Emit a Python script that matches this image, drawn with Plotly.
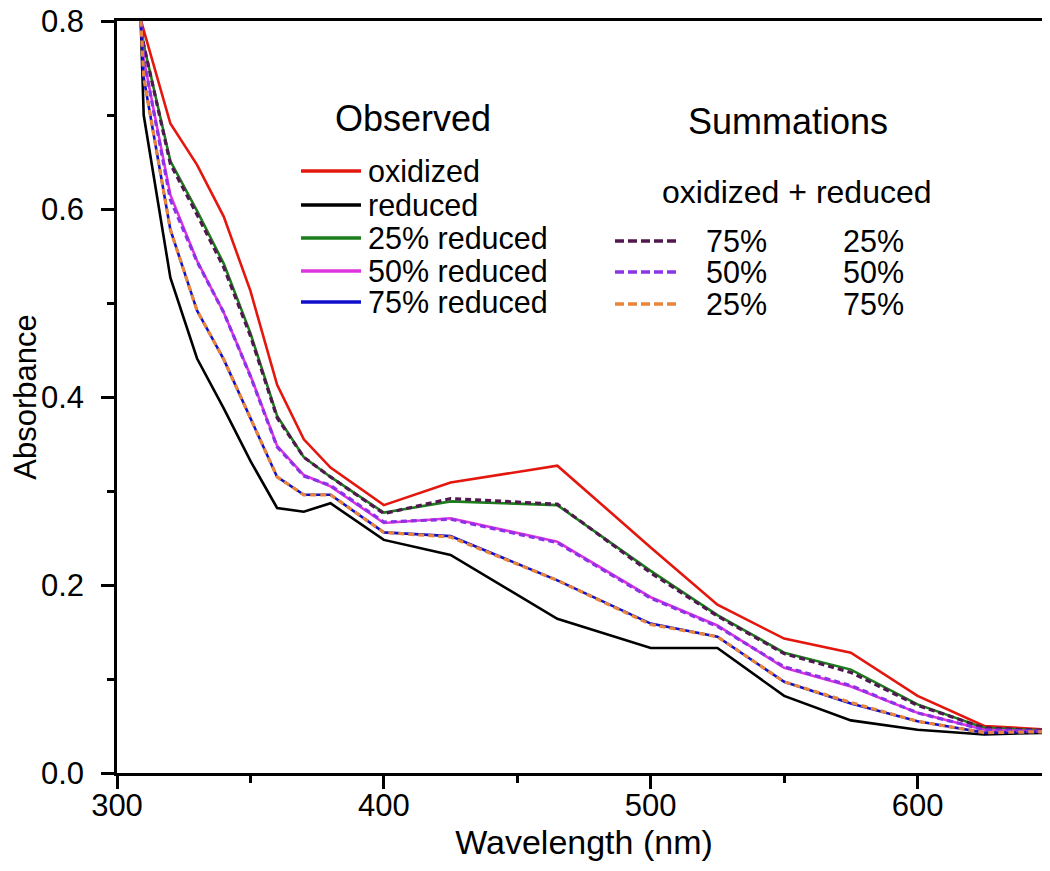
import plotly.graph_objects as go

# ---- data ----
wavelength = [300, 310, 320, 330, 340, 350, 360, 370, 380, 400, 425, 465, 500, 525, 550, 575, 600, 625, 650]

oxidized      = [0.89, 0.790, 0.691, 0.647, 0.592, 0.513, 0.413, 0.355, 0.325, 0.285, 0.309, 0.327, 0.240, 0.179, 0.143, 0.128, 0.082, 0.050, 0.046]
reduced       = [1.60, 0.700, 0.527, 0.441, 0.388, 0.332, 0.282, 0.278, 0.287, 0.248, 0.232, 0.164, 0.133, 0.133, 0.082, 0.056, 0.046, 0.041, 0.043]
reduced_25    = [1.00, 0.775, 0.651, 0.598, 0.542, 0.468, 0.380, 0.336, 0.315, 0.277, 0.289, 0.285, 0.215, 0.168, 0.128, 0.110, 0.073, 0.048, 0.045]
reduced_50    = [1.15, 0.760, 0.615, 0.545, 0.490, 0.423, 0.348, 0.317, 0.305, 0.266, 0.271, 0.246, 0.187, 0.157, 0.112, 0.092, 0.064, 0.046, 0.044]
reduced_75    = [1.30, 0.740, 0.578, 0.492, 0.440, 0.377, 0.315, 0.296, 0.296, 0.256, 0.252, 0.205, 0.159, 0.145, 0.097, 0.074, 0.055, 0.043, 0.044]

sum_75ox_25red = [1.00, 0.775, 0.648, 0.594, 0.538, 0.465, 0.378, 0.336, 0.315, 0.276, 0.292, 0.286, 0.213, 0.167, 0.127, 0.107, 0.072, 0.048, 0.045]
sum_50ox_50red = [1.15, 0.760, 0.610, 0.544, 0.490, 0.422, 0.347, 0.316, 0.306, 0.267, 0.270, 0.245, 0.186, 0.156, 0.113, 0.093, 0.064, 0.046, 0.044]
sum_25ox_75red = [1.30, 0.740, 0.578, 0.492, 0.440, 0.377, 0.315, 0.296, 0.296, 0.256, 0.251, 0.205, 0.158, 0.145, 0.097, 0.075, 0.055, 0.043, 0.044]

observed_names = ["oxidized", "reduced", "25% reduced", "50% reduced", "75% reduced"]
observed_series = [oxidized, reduced, reduced_25, reduced_50, reduced_75]
observed_colors = ["#e3170d", "#000000", "#1b7d1b", "#e033e0", "#1010cc"]

sum_left = ["75%", "50%", "25%"]
sum_right = ["25%", "50%", "75%"]
sum_series = [sum_75ox_25red, sum_50ox_50red, sum_25ox_75red]
sum_colors = ["#50184f", "#8c33e8", "#e8853a"]

x_tickvals = [300, 400, 500, 600]
y_tickvals = [0, 0.2, 0.4, 0.6, 0.8]
y_ticktext = ["0.0", "0.2", "0.4", "0.6", "0.8"]

FONT = "Arial, Liberation Sans, sans-serif"

fig = go.Figure()
for name, ys, col in zip(observed_names, observed_series, observed_colors):
    fig.add_trace(go.Scatter(x=wavelength, y=ys, mode="lines", name=name,
                             line=dict(color=col, width=2.6), showlegend=False))
for l, r, ys, col in zip(sum_left, sum_right, sum_series, sum_colors):
    fig.add_trace(go.Scatter(x=wavelength, y=ys, mode="lines", name=f"{l} ox + {r} red",
                             line=dict(color=col, width=3.2, dash="6px,4px"), showlegend=False))

# ---- manual legend (paper coordinates) ----
L, R, T, B = 109, 1043, 13, 765
def px(x):
    return (x - L) / (R - L)
def py(y):
    return (B - y) / (B - T)

annotations = []
shapes = []
annotations.append(dict(text="Observed", x=px(405), y=py(110), xref="paper", yref="paper",
                        showarrow=False, font=dict(family=FONT, size=36, color="black"),
                        xanchor="center", yanchor="middle"))
obs_y = [163, 197, 230, 263, 294]
for name, col, yy in zip(observed_names, observed_colors, obs_y):
    shapes.append(dict(type="line", xref="paper", yref="paper", x0=px(293), x1=px(353),
                       y0=py(yy), y1=py(yy), line=dict(color=col, width=3.5)))
    annotations.append(dict(text=name, x=px(359), y=py(yy), xref="paper", yref="paper",
                            showarrow=False, font=dict(family=FONT, size=30.5, color="black"),
                            xanchor="left", yanchor="middle", borderpad=0))

annotations.append(dict(text="Summations", x=px(780), y=py(113), xref="paper", yref="paper",
                        showarrow=False, font=dict(family=FONT, size=36, color="black"),
                        xanchor="center", yanchor="middle"))
annotations.append(dict(text="oxidized + reduced", x=px(789), y=py(184), xref="paper", yref="paper",
                        showarrow=False, font=dict(family=FONT, size=32, color="black"),
                        xanchor="center", yanchor="middle"))
sum_y = [233, 264, 296]
for l, r, col, yy in zip(sum_left, sum_right, sum_colors, sum_y):
    shapes.append(dict(type="line", xref="paper", yref="paper", x0=px(607), x1=px(670),
                       y0=py(yy), y1=py(yy), line=dict(color=col, width=3.5, dash="9px,4px")))
    annotations.append(dict(text=l, x=px(697), y=py(yy), xref="paper", yref="paper",
                            showarrow=False, font=dict(family=FONT, size=30.5, color="black"),
                            xanchor="left", yanchor="middle", borderpad=0))
    annotations.append(dict(text=r, x=px(834), y=py(yy), xref="paper", yref="paper",
                            showarrow=False, font=dict(family=FONT, size=30.5, color="black"),
                            xanchor="left", yanchor="middle", borderpad=0))

axis_common = dict(showline=True, linecolor="black", linewidth=2.5, mirror=True,
                   ticks="outside", ticklen=13, tickwidth=2.5, tickcolor="black",
                   showgrid=False, zeroline=False, ticklabeloverflow="allow",
                   automargin=False,
                   tickfont=dict(family=FONT, size=31, color="black"))

fig.update_layout(
    width=1050, height=871,
    margin=dict(l=109, r=7, t=13, b=106),
    paper_bgcolor="white", plot_bgcolor="white",
    xaxis=dict(range=[300, 650], tickmode="array", tickvals=x_tickvals,
               minor=dict(ticks="outside", ticklen=7, tickwidth=2.5, tickcolor="black",
                          tickvals=[350, 450, 550]),
               title=dict(text="Wavelength (nm)", font=dict(family=FONT, size=34, color="black"),
                          standoff=4),
               ticklabelstandoff=-10, **axis_common),
    yaxis=dict(range=[0, 0.8001], tickmode="array", tickvals=y_tickvals,
               ticktext=y_ticktext,
               minor=dict(ticks="outside", ticklen=7, tickwidth=2.5, tickcolor="black",
                          tickvals=[0.1, 0.3, 0.5, 0.7]),
               title=dict(text="Absorbance", font=dict(family=FONT, size=31, color="black"),
                          standoff=0),
               ticklabelstandoff=11, **axis_common),
    annotations=annotations,
    shapes=shapes,
)

fig.write_html("out.html")
